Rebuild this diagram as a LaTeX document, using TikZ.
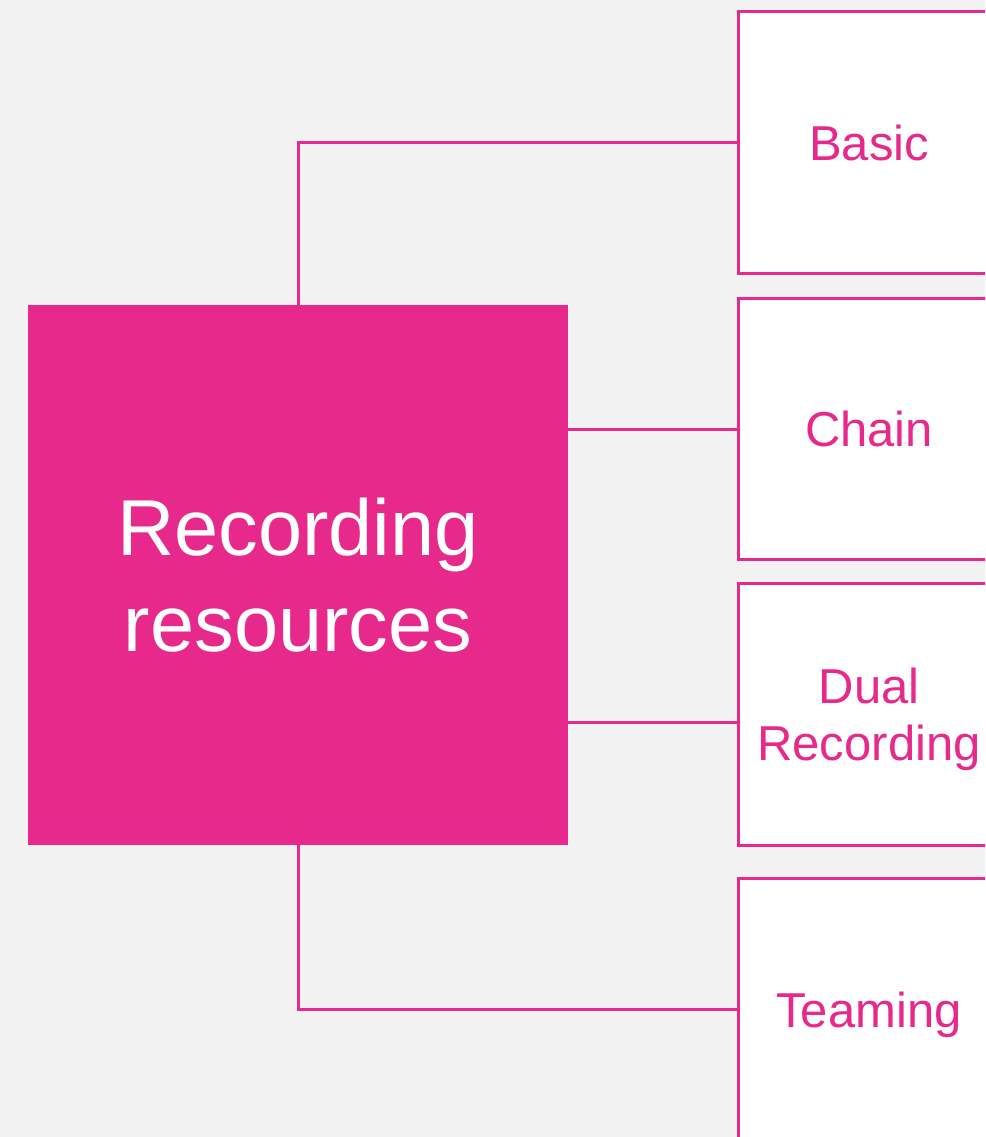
\documentclass[tikz,border=0pt]{standalone}
\usepackage{fontspec}
\setmainfont{Liberation Sans}
\definecolor{recpink}{HTML}{E6298B}
\definecolor{pagegray}{HTML}{F2F2F2}
\begin{document}
\begin{tikzpicture}[x=.75pt, y=-.75pt, every node/.style={rectangle, align=center}, line width=2.25pt,
	kind/.style={draw=recpink, fill=white, minimum width=196.5pt, minimum height=196pt, text=recpink, text depth=0pt, font=\fontsize{36.75}{42.5}\selectfont}]
	\useasboundingbox (0,0) rectangle (985,1137);
	\clip (0,0) rectangle (985,1137);
	\fill[pagegray] (0,0) rectangle (985,1137);
	\node[fill=recpink, minimum size=405pt, outer sep=0pt, text=white, font=\fontsize{59.5}{72}\selectfont] (rec) at (298,575) {Recording\\resources};
	\node[kind] (basic) at (869,142.5) {Basic};
	\node[kind] (chain) at (869,429) {Chain};
	\node[kind] (dual) at (869,714.5) {Dual\\Recording};
	\node[kind] (teaming) at (869,1009.5) {Teaming};
	\coordinate (dualIn) at (dual.west |- 0,722);
	\draw[recpink] (rec.north) |- (basic.west);
	\draw[recpink] (rec.east |- chain.west) -- (chain.west);
	\draw[recpink] (rec.east |- dualIn) -- (dualIn);
	\draw[recpink] (rec.south) |- (teaming.west);
\end{tikzpicture}
\end{document}
